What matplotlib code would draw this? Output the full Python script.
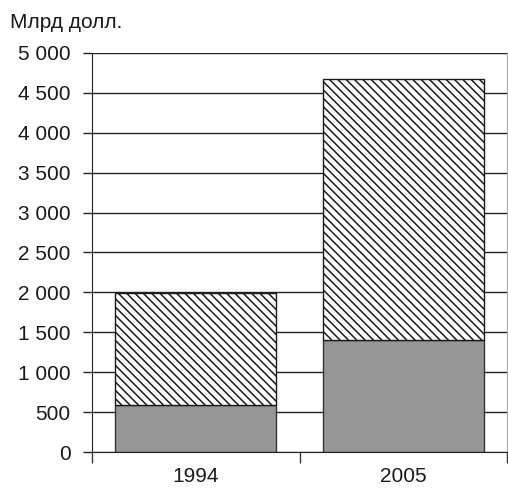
import numpy as np
import matplotlib
matplotlib.use("Agg")
import matplotlib.pyplot as plt

# -----------------------------
# Data
# -----------------------------
years = ["1994", "2005"]
base_vals = [590, 1400]        # grey part
total_vals = [1990, 4670]      # full bar height
top_vals = [t - b for t, b in zip(total_vals, base_vals)]

y_ticks = list(range(0, 5001, 500))
y_labels = ["0", "500", "1 000", "1 500", "2 000", "2 500",
            "3 000", "3 500", "4 000", "4 500", "5 000"]

plt.rcParams["font.family"] = ["Liberation Sans", "DejaVu Sans"]
plt.rcParams["hatch.linewidth"] = 1.1

W, H = 508, 488
fig = plt.figure(figsize=(W / 100, H / 100), dpi=100)
ax = fig.add_axes([92 / W, 1 - 452 / H, (507 - 92) / W, (452 - 53) / H])

x = np.arange(len(years)) + 0.5
bw = 0.776
edge = "#333333"
fs = 15

ax.bar(x, base_vals, width=bw, color="#969696", edgecolor=edge, linewidth=1.0, zorder=3)
ax.bar(x, top_vals, width=bw, bottom=base_vals, color="white", edgecolor="#1a1a1a",
       hatch="\\\\\\\\", linewidth=1.0, zorder=3)

ax.set_xlim(0, 2)
ax.set_ylim(0, 5000)
ax.set_yticks(y_ticks)
ax.set_yticklabels(y_labels, fontsize=fs, color="#1a1a1a")
ax.tick_params(axis="y", length=6.5, width=1.0, pad=9, color="#222222")

ax.yaxis.grid(True, color="#222222", linewidth=1.0)
ax.set_axisbelow(True)

ax.set_xticks([0, 1, 2])
ax.set_xticklabels([])
ax.tick_params(axis="x", which="major", length=8, width=1.0, direction="out", color="#333333")
ax.set_xticks(x, minor=True)
ax.set_xticklabels(years, minor=True, fontsize=fs, color="#1a1a1a")
ax.tick_params(axis="x", which="minor", length=0, pad=11)

ax.spines["top"].set_visible(False)
ax.spines["left"].set_color("#222222")
ax.spines["bottom"].set_color("#222222")
ax.spines["right"].set_color("#aaaaaa")
ax.spines["right"].set_linewidth(0.8)

fig.text(10 / W, 1 - 22 / H, "Млрд долл.", fontsize=fs, color="#1a1a1a",
         ha="left", va="center")

fig.savefig("out.png", dpi=100)
